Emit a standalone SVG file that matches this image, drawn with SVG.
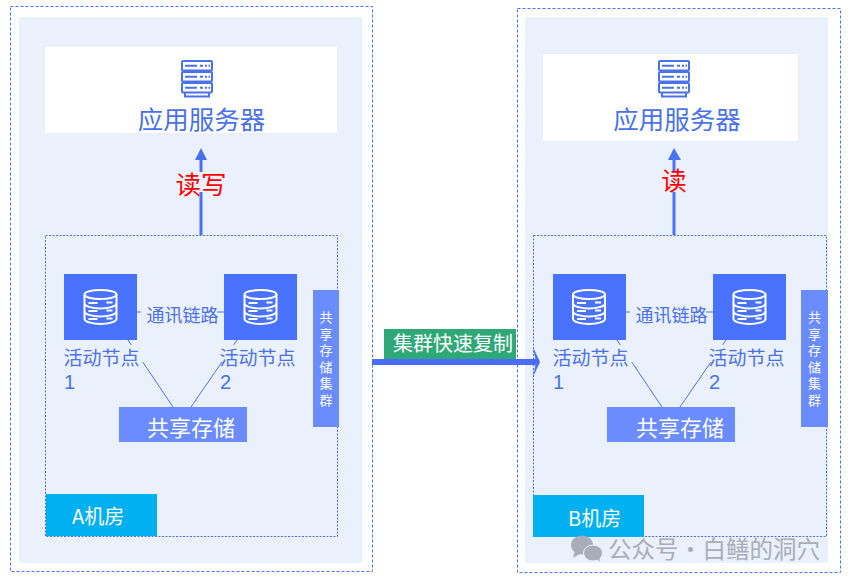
<svg xmlns="http://www.w3.org/2000/svg" width="848" height="583" viewBox="0 0 848 583">
<style>
text{font-family:"Noto Sans CJK SC","Liberation Sans",sans-serif}
.outer{fill:none;stroke:#4a72ff;stroke-width:1;stroke-dasharray:3 2}
.inner{fill:none;stroke:#4a6ee8;stroke-width:1;stroke-dasharray:2 1.5}
.panel{fill:#eaf0fc}
.white{fill:#fff}
.sq{fill:#4872ff}
.st{fill:#6b8cff}
.room{fill:#00b0f0}
.ln{stroke:#4a72e8;stroke-width:1;fill:none}
.ar{stroke:#4a72f0;stroke-width:3;fill:none}
.ic{fill:none;stroke:#fff;stroke-width:2}
.sv{fill:none;stroke:#4a72e8;stroke-width:2}
.bg{fill:#eaf0fc}
.vt{writing-mode:vertical-rl;font-size:13px;letter-spacing:3.500px;fill:#fff}
.lb{font-size:19px;fill:#4a72e8}
text.dg{font-family:"Liberation Sans",sans-serif;font-size:20px;fill:#4a72e8}
.lk{font-size:18px;fill:#4a72e8}
.app{font-size:25.500px;fill:#4a72e8;text-anchor:middle}
.sh{font-size:22px;fill:#fff}
.rm{font-size:20px;fill:#fff}
</style>
<defs>
<g id="db">
<ellipse cx="0" cy="-12.500" rx="16" ry="4.500" class="ic"/>
<path d="M-16-12.500V12C-16 15 -7 17 0 17S16 15 16 12V-12.500" class="ic"/>
<path d="M-16-3.500C-16-.5 -7 1.500 0 1.500S16-.5 16-3.500M-16 4.500C-16 7.500 -7 9.500 0 9.500S16 7.500 16 4.500" class="ic"/>
<path d="M-12-4H-3M6-4.500H12M-12 4H-3M6 3.500H12M-12 12H-3M6 11.500H12" stroke="#fff" stroke-width="1.800" fill="none"/>
</g>
<g id="srv">
<rect x="-15" y="-17" width="30" height="9.500" rx="1" class="sv"/>
<rect x="-15" y="-6" width="30" height="9.500" rx="1" class="sv"/>
<rect x="-15" y="5" width="30" height="9.500" rx="1" class="sv"/>
<path d="M-12 14.500V18.500H12V14.500" class="sv"/>
<path d="M-12-12.300H0M-12-1.300H0M-12 9.700H0" class="sv" stroke-width="1.200"/>
<path d="M3-12.300H6M8-12.300H10M11.500-12.300H13M3-1.300H6M8-1.300H10M11.500-1.300H13M3 9.700H6M8 9.700H10M11.500 9.700H13" class="sv" stroke-width="1.600"/>
</g>
</defs>

<g id="room-a">
<rect class="outer" x="10.500" y="6.500" width="362" height="565"/>
<rect class="panel" x="19" y="17" width="343" height="546"/>
</g>
<g id="room-b">
<rect class="outer" x="517.500" y="8.500" width="323" height="564"/>
<rect class="panel" x="525" y="17" width="303" height="546"/>
</g>

<g id="connectors">
<path class="ar" d="M201 235V155"/><path d="M195 160L201 148L207 160Z" fill="#4a72f0"/>
<path class="ar" d="M674 235V155"/><path d="M668 160L674 148L681 160Z" fill="#4a72f0"/>
<path class="ln" d="M137 312H224"/>
<path class="ln" d="M626 312H713"/>
<path class="ln" d="M128 340L173 407M237 340L191 407"/>
<path class="ln" d="M617 340L662 407M726 340L680 407"/>
<path d="M372 359H537V365H372Z" fill="#4a6cf7"/>
<path d="M533 347L540 362L533 377L536 362Z" fill="#4a6cf7"/>
</g>

<g id="app-a">
<rect class="white" x="45" y="47" width="292" height="86"/>
<use href="#srv" x="197" y="78"/>
<text class="app" x="201.500" y="129">应用服务器</text>
</g>
<g id="app-b">
<rect class="white" x="543" y="54" width="255" height="87"/>
<use href="#srv" x="674" y="78"/>
<text class="app" x="677" y="129">应用服务器</text>
</g>

<g id="label-rw">
<rect class="bg" x="176" y="172" width="50" height="20"/>
<text x="201" y="194" font-size="25.500" text-anchor="middle" fill="#f00">读写</text>
</g>
<g id="label-r">
<rect class="bg" x="660" y="172" width="28" height="20"/>
<text x="674" y="190" font-size="25.500" text-anchor="middle" fill="#f00">读</text>
</g>

<g id="cluster-a">
<rect class="inner" x="45.500" y="235.500" width="292" height="301"/>
</g>
<g id="cluster-b">
<rect class="inner" x="533.500" y="235.500" width="293" height="301"/>
</g>

<g id="node-a1">
<rect class="sq" x="64" y="274" width="73" height="66"/>
<use href="#db" x="100.500" y="307"/>
<rect class="bg" x="57" y="345" width="86" height="17"/>
<text class="lb" x="63.500" y="365">活动节点</text>
<text class="dg" x="64" y="389">1</text>
</g>
<g id="node-a2">
<rect class="sq" x="224" y="274" width="73" height="66"/>
<use href="#db" x="260.500" y="307"/>
<rect class="bg" x="219" y="345" width="80" height="17"/>
<text class="lb" x="219.500" y="365">活动节点</text>
<text class="dg" x="220" y="389">2</text>
</g>
<g id="node-b1">
<rect class="sq" x="553" y="274" width="73" height="66"/>
<use href="#db" x="589" y="307"/>
<rect class="bg" x="546" y="345" width="86" height="17"/>
<text class="lb" x="552.500" y="365">活动节点</text>
<text class="dg" x="553" y="389">1</text>
</g>
<g id="node-b2">
<rect class="sq" x="713" y="274" width="73" height="66"/>
<use href="#db" x="749.500" y="307"/>
<rect class="bg" x="708" y="345" width="80" height="17"/>
<text class="lb" x="708.500" y="365">活动节点</text>
<text class="dg" x="709" y="389">2</text>
</g>

<g id="link-a">
<rect class="bg" x="141" y="304" width="76" height="20"/>
<text class="lk" x="146.500" y="322">通讯链路</text>
</g>
<g id="link-b">
<rect class="bg" x="630" y="304" width="76" height="20"/>
<text class="lk" x="635.500" y="322">通讯链路</text>
</g>

<g id="storage-a">
<rect class="st" x="119" y="407" width="128" height="35"/>
<text class="sh" x="147" y="436">共享存储</text>
</g>
<g id="storage-b">
<rect class="st" x="607" y="407" width="128" height="35"/>
<text class="sh" x="636" y="436">共享存储</text>
</g>

<g id="side-a">
<rect class="st" x="313" y="290" width="26" height="137"/>
<text class="vt" x="326" y="311">共享存储集群</text>
</g>
<g id="side-b">
<rect class="st" x="801" y="290" width="27" height="137"/>
<text class="vt" x="814.500" y="311">共享存储集群</text>
</g>

<g id="room-label-a">
<rect class="room" x="46" y="494" width="111" height="42"/>
<text class="rm" x="72" y="524">A机房</text>
</g>
<g id="room-label-b">
<rect class="room" x="533" y="495" width="111" height="42"/>
<text class="rm" x="568" y="526">B机房</text>
</g>

<g id="label-replicate">
<rect x="384" y="329" width="132" height="30" fill="#2fa878"/>
<text x="393" y="351" font-size="20" fill="#fff">集群快速复制</text>
</g>

<g id="watermark" fill="#a8adb8">
<ellipse cx="582" cy="545" rx="11" ry="9.500"/>
<path d="M575 551L573 558L581 553Z"/>
<ellipse cx="593" cy="553" rx="9.500" ry="8" stroke="#eaf0fc" stroke-width="1"/>
<path d="M597 559L600 562L599 556Z"/>
<text x="608" y="557.500" font-size="23.500" word-spacing="-5">公众号 · 白鳝的洞穴</text>
</g>
</svg>
